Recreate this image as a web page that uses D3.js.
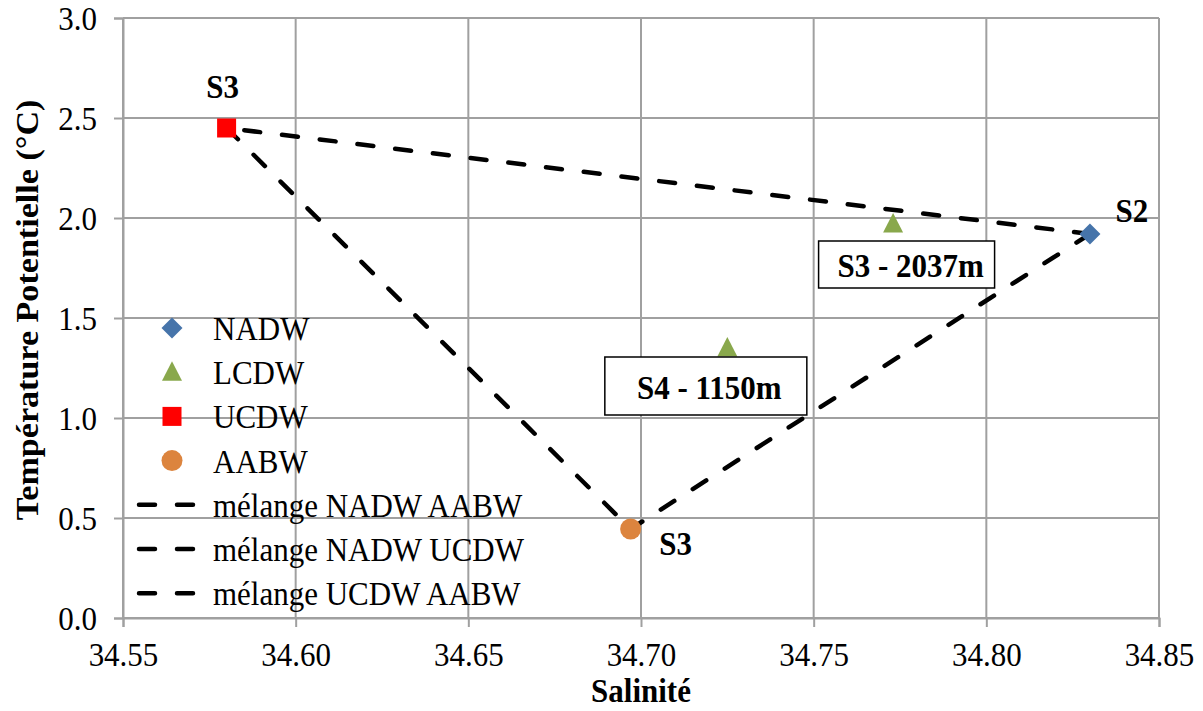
<!DOCTYPE html>
<html>
<head>
<meta charset="utf-8">
<script src="https://cdn.jsdelivr.net/npm/d3@7"></script>
<style>
  html, body { margin: 0; padding: 0; background: #fff; }
  svg { display: block; }
  text { font-family: "Liberation Serif", "Times New Roman", serif; fill: #000; }
</style>
</head>
<body>
<svg id="chart" width="1203" height="711"></svg>
<script>
// ---- data ----
const xTicks = [34.55, 34.60, 34.65, 34.70, 34.75, 34.80, 34.85];
const yTicks = [0.0, 0.5, 1.0, 1.5, 2.0, 2.5, 3.0];
const seriesNames = ["NADW", "LCDW", "UCDW", "AABW"];
const nadwS = [34.83];  const nadwT = [1.92];
const lcdwS = [34.773, 34.725]; const lcdwT = [1.97, 1.35];
const ucdwS = [34.58];  const ucdwT = [2.45];
const aabwS = [34.697]; const aabwT = [0.445];
const mixNames = ["mélange NADW AABW", "mélange NADW UCDW", "mélange UCDW AABW"];
const mixNadwAabwS = [34.83, 34.697]; const mixNadwAabwT = [1.92, 0.445];
const mixNadwUcdwS = [34.83, 34.58];  const mixNadwUcdwT = [1.92, 2.45];
const mixUcdwAabwS = [34.58, 34.697]; const mixUcdwAabwT = [2.45, 0.445];
const stationLabels = ["S2", "S3", "S3"];
const depthLabels = ["S3 - 2037m", "S4 - 1150m"];
const xTitle = "Salinité";
const yTitle = "Température Potentielle (°C)";

// ---- layout ----
const svg = d3.select("#chart");
const L = 123, R = 1159, T = 18, B = 618;
const x = d3.scaleLinear().domain([34.55, 34.85]).range([L, R]);
const y = d3.scaleLinear().domain([0, 3]).range([B, T]);
const gridColor = "#a0a0a0";
const FS = 31;
const SY = 1.1; // vertical stretch of glyphs

function txt(g, tx, ty, s, opts = {}) {
  const t = g.append("text")
    .attr("transform", `translate(${tx},${ty}) scale(1,${SY})${opts.rotate ? " rotate(" + opts.rotate + ")" : ""}`)
    .attr("dy", "0.35em").attr("font-size", FS)
    .attr("text-anchor", opts.anchor || "start");
  if (opts.bold) t.attr("font-weight", "bold");
  t.text(s);
  return t;
}

// gridlines
svg.append("g").selectAll("line.h").data(yTicks).join("line")
  .attr("x1", L).attr("x2", R).attr("y1", d => y(d)).attr("y2", d => y(d))
  .attr("stroke", gridColor).attr("stroke-width", 2);
svg.append("g").selectAll("line.v").data(xTicks).join("line")
  .attr("x1", d => x(d)).attr("x2", d => x(d)).attr("y1", T).attr("y2", B)
  .attr("stroke", gridColor).attr("stroke-width", 2);

// axes
const xAxis = svg.append("g").attr("transform", `translate(0,${B})`)
  .call(d3.axisBottom(x).tickValues(xTicks).tickFormat(d3.format(".2f")).tickSize(9));
const yAxis = svg.append("g").attr("transform", `translate(${L},0)`)
  .call(d3.axisLeft(y).tickValues(yTicks).tickFormat(d3.format(".1f")).tickSize(9));
[xAxis, yAxis].forEach(a => {
  a.select(".domain").attr("stroke", gridColor).attr("stroke-width", 2);
  a.selectAll(".tick line").attr("stroke", gridColor).attr("stroke-width", 2);
  a.selectAll(".tick text").remove();
});
xAxis.selectAll(".tick").each(function(d) {
  txt(d3.select(this), 0, 36, d3.format(".2f")(d), { anchor: "middle" });
});
yAxis.selectAll(".tick").each(function(d) {
  txt(d3.select(this), -26, 0, d3.format(".1f")(d), { anchor: "end" });
});

// axis titles
txt(svg, (L + R) / 2, 690, xTitle, { anchor: "middle", bold: true });
txt(svg, 27, 310, yTitle, { anchor: "middle", bold: true, rotate: -90 });

// mixing lines
const line = d3.line().x(d => x(d[0])).y(d => y(d[1]));
const mixes = [
  d3.zip(mixNadwAabwS, mixNadwAabwT),
  d3.zip(mixNadwUcdwS, mixNadwUcdwT),
  d3.zip(mixUcdwAabwS, mixUcdwAabwT)
];
const dash = "16,22";
svg.append("g").selectAll("path").data(mixes).join("path")
  .attr("d", line).attr("fill", "none").attr("stroke", "#000")
  .attr("stroke-width", 4.5).attr("stroke-dasharray", dash).attr("stroke-linecap", "round");

// markers
const colors = { NADW: "#4674AA", LCDW: "#89A84C", UCDW: "#FF0000", AABW: "#DC843E" };
function marker(g, type, cx, cy) {
  if (type === "NADW") {
    g.append("path").attr("d", `M${cx},${cy - 10.5}L${cx + 10.5},${cy}L${cx},${cy + 10.5}L${cx - 10.5},${cy}Z`).attr("fill", colors.NADW);
  } else if (type === "LCDW") {
    g.append("path").attr("d", `M${cx},${cy - 11}L${cx + 10},${cy + 8.5}L${cx - 10},${cy + 8.5}Z`).attr("fill", colors.LCDW);
  } else if (type === "UCDW") {
    g.append("rect").attr("x", cx - 9.5).attr("y", cy - 9.5).attr("width", 19).attr("height", 19).attr("fill", colors.UCDW);
  } else {
    g.append("circle").attr("cx", cx).attr("cy", cy).attr("r", 10.5).attr("fill", colors.AABW);
  }
}
const mk = svg.append("g");
const pts = [
  ["NADW", nadwS, nadwT], ["LCDW", lcdwS, lcdwT], ["UCDW", ucdwS, ucdwT], ["AABW", aabwS, aabwT]
];
pts.forEach(([name, S, Tt]) => S.forEach((s, i) => marker(mk, name, x(s), y(Tt[i]))));

// station labels
const lab = svg.append("g");
txt(lab, x(nadwS[0]) + 42, y(nadwT[0]) - 24, stationLabels[0], { anchor: "middle", bold: true });
txt(lab, x(ucdwS[0]) - 4, y(ucdwT[0]) - 42, stationLabels[1], { anchor: "middle", bold: true });
txt(lab, x(aabwS[0]) + 45, y(aabwT[0]) + 14, stationLabels[2], { anchor: "middle", bold: true });

// boxed depth labels
function boxLabel(cx, cy, w, h, tx, s) {
  lab.append("rect").attr("x", cx - w / 2).attr("y", cy - h / 2).attr("width", w).attr("height", h)
    .attr("fill", "#fff").attr("stroke", "#000").attr("stroke-width", 1.5);
  txt(lab, tx, cy + 1, s, { anchor: "middle", bold: true });
}
boxLabel(x(lcdwS[0]) + 13.5, y(lcdwT[0]) + 40.5, 176, 47, x(lcdwS[0]) + 17.5, depthLabels[0]);
boxLabel(x(lcdwS[1]) - 21.5, y(lcdwT[1]) + 38, 202, 58, x(lcdwS[1]) - 18, depthLabels[1]);

// legend
const leg = svg.append("g");
const legX = 172, legTextX = 213, legY0 = 328, legStep = 44.2;
seriesNames.forEach((n, i) => {
  const cy = legY0 + i * legStep;
  marker(leg, n, legX, cy);
  txt(leg, legTextX, cy, n);
});
mixNames.forEach((n, i) => {
  const cy = legY0 + (i + 4) * legStep;
  leg.append("line").attr("x1", 139).attr("x2", 195).attr("y1", cy).attr("y2", cy)
    .attr("stroke", "#000").attr("stroke-width", 4.5).attr("stroke-dasharray", dash).attr("stroke-linecap", "round");
  txt(leg, legTextX, cy, n);
});
</script>
</body>
</html>
